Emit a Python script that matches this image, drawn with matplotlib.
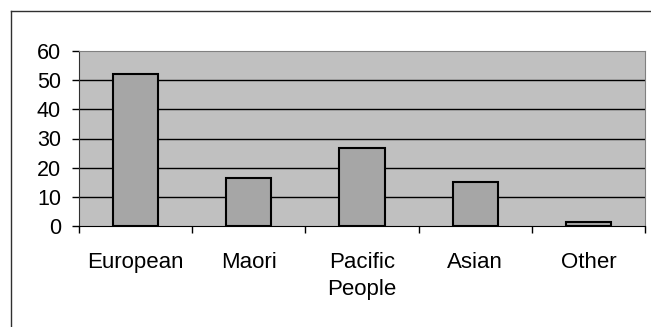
import matplotlib
matplotlib.use("Agg")
import matplotlib.pyplot as plt
from matplotlib.lines import Line2D

plt.rcParams['font.family'] = ['Liberation Sans', 'DejaVu Sans']

categories = ["European", "Maori", "Pacific\nPeople", "Asian", "Other"]
values = [52.2, 16.3, 26.8, 15.1, 1.5]
yticks = [0, 10, 20, 30, 40, 50, 60]

W, H = 651, 327
fig = plt.figure(figsize=(W / 100, H / 100), dpi=100)

# plot area in pixels: left 79, right 645, top 51, bottom 226
ax = fig.add_axes([79 / W, 1 - 226 / H, (645 - 79) / W, (226 - 51) / H])
ax.set_facecolor("#c0c0c0")

x = list(range(len(categories)))
ax.bar(x, values, width=0.4, color="#a6a6a6", edgecolor="black", linewidth=1.5, zorder=3)

ax.set_xlim(-0.5, len(categories) - 0.5)
ax.set_ylim(0, 60)
ax.set_yticks(yticks)
ax.set_yticklabels([str(v) for v in yticks], fontsize=15.5)
for v in yticks[1:-1]:
    ax.axhline(v, color="black", linewidth=1, zorder=1)

ax.set_xticks(x)
ax.set_xticklabels(categories, fontsize=16, va="top", linespacing=1.35)
ax.tick_params(axis="x", which="major", length=0, pad=19)
ax.set_xticks([i - 0.5 for i in range(len(categories) + 1)], minor=True)
ax.tick_params(axis="x", which="minor", length=5, width=1, direction="out")
ax.tick_params(axis="y", length=5, width=1, direction="out", pad=8)

for side in ["top", "right"]:
    ax.spines[side].set_color("#808080")
ax.spines["left"].set_color("#303030")
ax.spines["bottom"].set_color("black")

# outer chart frame
fig.add_artist(Line2D([11 / W, 11 / W], [0, 1 - 11 / H], color="#303030", linewidth=1, transform=fig.transFigure))
fig.add_artist(Line2D([11 / W, 1], [1 - 11 / H, 1 - 11 / H], color="#303030", linewidth=1, transform=fig.transFigure))

fig.savefig("out.png", dpi=100)
